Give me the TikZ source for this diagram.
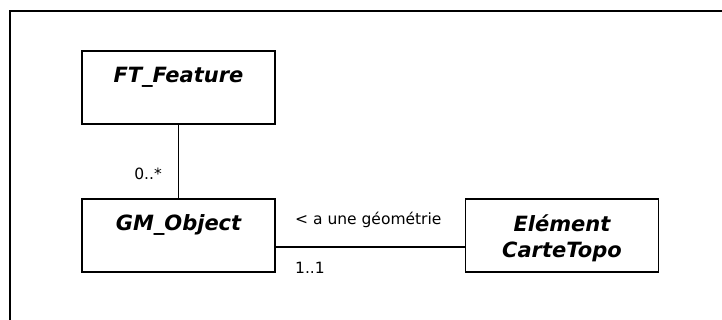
\documentclass[tikz,border=0pt]{standalone}
\usepackage{fontspec}
\setmainfont{DejaVu Sans}
\usetikzlibrary{positioning}

\begin{document}
\begin{tikzpicture}[x=1pt,y=-1pt,
  classbox/.style={draw, line width=1.3pt, minimum width=193pt, minimum height=73pt, inner sep=0pt},
  classname/.style={font=\fontsize{21}{26}\selectfont\bfseries\itshape, align=center, inner sep=0pt},
  role/.style={font=\fontsize{15.5}{18}\selectfont, inner sep=0pt}]
\useasboundingbox (0,0) rectangle (722,320);

% frame
\draw[line width=1.5pt] (10,320) -- (10,11) -- (722,11);

\node[classbox] (ftfeature) at (178.5,87.5) {};
\node[classbox] (gmobject) at (178.5,235.5) {};
\node[classbox] (elementcarte) at (562,235.5) {};

\node[classname, anchor=base] (ftfeaturename) at (178.5,83) {FT\_Feature};
\node[classname, anchor=base] (gmobjectname) at (178.5,231) {GM\_Object};
\node[classname, anchor=north] (elementcartename) at (562,215) {Elément\\CarteTopo};

\draw[line width=1.3pt] (ftfeature) -- (gmobject);
\draw[line width=1.3pt] ([yshift=-11.5pt]gmobject.east) -- ([yshift=-11.5pt]elementcarte.west);

\node[role, anchor=base east] (multfeature) at (162,180) {0..*};
\node[role, anchor=base west] (assocname) at (295,225) {< a une géométrie};
\node[role, anchor=base west] (multobject) at (295,273) {1..1};
\end{tikzpicture}
\end{document}
